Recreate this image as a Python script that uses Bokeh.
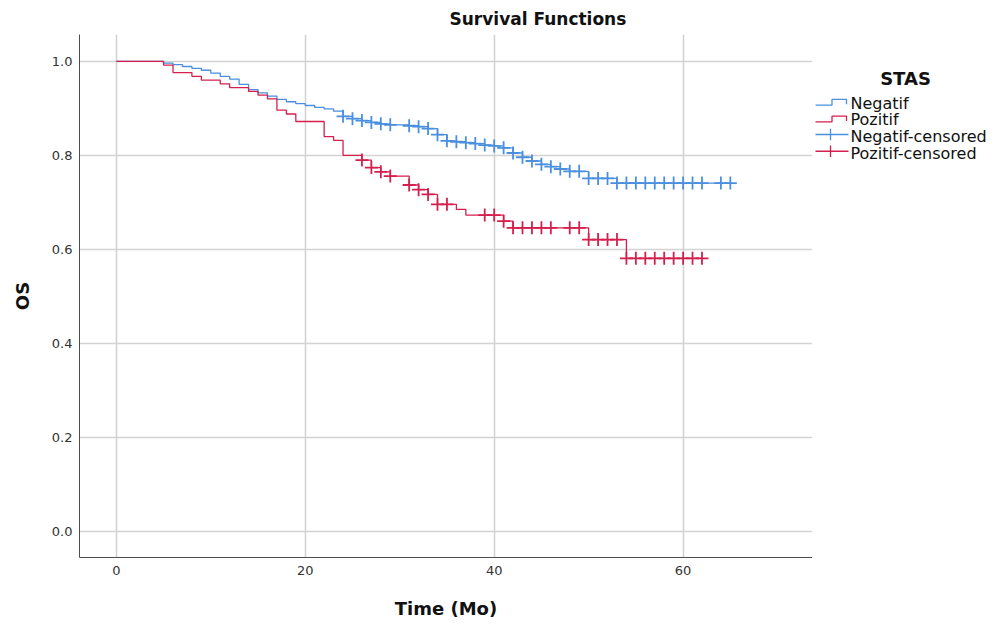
from bokeh.plotting import figure
from bokeh.layouts import row
from bokeh.models import Range1d, FixedTicker, PrintfTickFormatter
from bokeh.core.properties import value
from bokeh.embed import file_html
from bokeh.resources import INLINE

# Kaplan-Meier overall survival by STAS status (months)
neg_event_times = [5, 6, 7, 8, 9, 10, 11, 12, 13, 14, 15, 16, 17, 18, 19, 20, 21, 22, 23,
                   24, 25, 26, 27, 28, 29, 31, 32, 33, 34, 35, 36, 37, 38, 39, 40, 41, 42,
                   43, 44, 45, 46, 47, 48, 50, 53]
neg_survival = [0.996, 0.993, 0.989, 0.985, 0.981, 0.975, 0.968, 0.962, 0.951, 0.940,
                0.933, 0.926, 0.919, 0.914, 0.910, 0.906, 0.902, 0.899, 0.894, 0.883,
                0.878, 0.874, 0.870, 0.867, 0.865, 0.863, 0.861, 0.857, 0.844, 0.831,
                0.829, 0.827, 0.825, 0.822, 0.820, 0.816, 0.805, 0.796, 0.788, 0.781,
                0.776, 0.771, 0.766, 0.751, 0.741]
neg_censor_times = [24, 25, 26, 27, 28, 29, 31, 32, 33, 34, 35, 36, 37, 38, 39, 40, 41, 42,
                    43, 44, 45, 46, 47, 48, 49, 50, 51, 52, 53, 54, 55, 56, 57, 58, 59, 60,
                    61, 62, 64, 65]
neg_last_time = 65

pos_event_times = [5, 6, 8, 9, 11, 12, 14, 15, 16, 17, 18, 19, 22, 23, 24, 26, 27, 28, 29,
                   31, 32, 33, 34, 36, 37, 41, 42, 50, 54]
pos_survival = [0.992, 0.976, 0.968, 0.960, 0.952, 0.944, 0.936, 0.928, 0.920, 0.896,
                0.888, 0.872, 0.840, 0.832, 0.800, 0.790, 0.774, 0.765, 0.756, 0.737,
                0.727, 0.717, 0.696, 0.685, 0.673, 0.660, 0.646, 0.621, 0.581]
pos_censor_times = [26, 27, 28, 29, 31, 32, 33, 34, 35, 39, 40, 41, 42, 43, 44, 45, 46, 48,
                    49, 50, 51, 52, 53, 54, 55, 56, 57, 58, 59, 60, 61, 62]
pos_last_time = 62

group_names = ["Negatif", "Pozitif"]
legend_labels = ["Negatif", "Pozitif", "Negatif-censored", "Pozitif-censored"]
x_ticks = [0, 20, 40, 60]
y_ticks = [0.0, 0.2, 0.4, 0.6, 0.8, 1.0]

BLUE = "#4A8FE0"
RED = "#D51F4E"
FONT = "DejaVu Sans"


def step_curve(times, surv, last):
    xs = [0] + list(times) + [last]
    ys = [1.0] + list(surv) + [surv[-1]]
    return xs, ys


def surv_at(t, times, surv):
    s = 1.0
    for ti, si in zip(times, surv):
        if ti <= t:
            s = si
    return s


p = figure(width=812, height=625,
           x_range=Range1d(-3.9, 73.7), y_range=Range1d(-0.055, 1.057),
           output_backend="svg", toolbar_location=None,
           min_border_left=79, min_border_right=0, min_border_top=33,
           min_border_bottom=68)
p.outline_line_color = None
p.background_fill_color = "white"
p.border_fill_color = "white"

# title, left-aligned with an offset so that it sits right of the frame centre
p.title.text = "Survival Functions"
p.title.align = "left"
p.title.offset = 370
p.title.standoff = 12
p.title.text_font = FONT
p.title.text_font_style = "bold"
p.title.text_font_size = "17px"
p.title.text_color = "#111111"

p.xaxis.ticker = FixedTicker(ticks=x_ticks)
p.yaxis.ticker = FixedTicker(ticks=y_ticks)
p.yaxis.formatter = PrintfTickFormatter(format="%.1f")
for ax in (p.xaxis, p.yaxis):
    ax.major_tick_line_color = None
    ax.minor_tick_line_color = None
    ax.major_tick_out = 0
    ax.major_tick_in = 0
    ax.axis_line_color = "#4d4d4d"
    ax.axis_line_width = 1
    ax.major_label_text_font = FONT
    ax.major_label_text_font_size = "13px"
    ax.major_label_text_color = "#333333"
    ax.axis_label_text_font = FONT
    ax.axis_label_text_font_style = "bold"
    ax.axis_label_text_font_size = "18px"
    ax.axis_label_text_color = "#111111"
p.xaxis.axis_label = "Time (Mo)"
p.yaxis.axis_label = "OS"
p.xaxis.major_label_standoff = 8
p.xaxis.axis_label_standoff = 20
p.yaxis.major_label_standoff = 7
p.yaxis.axis_label_standoff = 16

p.xgrid.ticker = FixedTicker(ticks=x_ticks)
p.ygrid.ticker = FixedTicker(ticks=y_ticks)
for g in (p.xgrid, p.ygrid):
    g.grid_line_color = "#d3d3d3"
    g.grid_line_width = 1.6

series = [
    (neg_event_times, neg_survival, neg_censor_times, neg_last_time, BLUE),
    (pos_event_times, pos_survival, pos_censor_times, pos_last_time, RED),
]
for times, surv, cens, last, color in series:
    xs, ys = step_curve(times, surv, last)
    p.step(xs, ys, mode="after", line_color=color, line_width=1.3)
    cy = [surv_at(t, times, surv) for t in cens]
    p.scatter(cens, cy, marker="cross", size=13, line_color=color, line_width=1.8)

# legend panel to the right of the plot
leg = figure(width=188, height=625, x_range=Range1d(812, 1000),
             y_range=Range1d(625, 0), output_backend="svg",
             toolbar_location=None, x_axis_type=None, y_axis_type=None,
             min_border_left=0, min_border_right=0, min_border_top=0,
             min_border_bottom=0)
leg.outline_line_color = None
leg.grid.visible = False

leg.text(x=[905], y=[52], text=["STAS"], text_align="center",
         text_baseline="middle", text_font=value(FONT),
         text_font_style="bold", text_font_size=value("18px"),
         text_color="#111111")

row_y = [82, 102, 122, 142]
leg.text(x=[850] * 4, y=row_y, text=legend_labels, text_align="left",
         text_baseline="middle", text_font=value(FONT),
         text_font_size=value("16px"), text_color="#111111")

for yc, color in zip(row_y[:2], [BLUE, RED]):
    leg.line([815, 831.5, 831.5, 846, 846],
             [yc + 2.5, yc + 2.5, yc - 4.5, yc - 4.5, yc + 1.5],
             line_color=color, line_width=1.3)
for yc, color in zip(row_y[2:], [BLUE, RED]):
    leg.line([815, 848], [yc - 2.5, yc - 2.5], line_color=color, line_width=1.3)
    leg.line([830, 830], [yc - 9.5, yc + 4.5], line_color=color, line_width=1.3)

layout = row(p, leg)
open("out.html", "w").write(file_html(layout, INLINE))
